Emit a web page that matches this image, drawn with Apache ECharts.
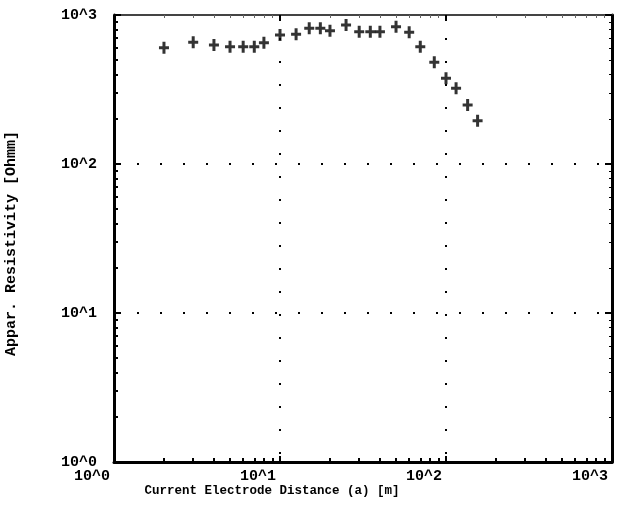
<!DOCTYPE html>
<html>
<head>
<meta charset="utf-8">
<script src="https://cdn.jsdelivr.net/npm/echarts@6/dist/echarts.min.js"></script>
<style>html,body{margin:0;padding:0;background:#fff}#c{width:620px;height:512px}</style>
</head>
<body>
<div id="c"></div>
<script>
var distance = [2, 3, 4, 5, 6, 7, 8, 10, 12.5, 15, 17.5, 20, 25, 30, 35, 40, 50, 60, 70, 85, 100, 115, 135, 155];
var resistivity = [604, 656, 629, 613, 613, 613, 652, 734, 742, 814, 814, 785, 857, 773, 773, 773, 834, 765, 613, 482, 376, 322, 249, 195];
var majorTicks = [1, 10, 100, 1000];
var minorTicks = [2,3,4,5,6,7,8,9,20,30,40,50,60,70,80,90,200,300,400,500,600,700,800,900];
var xTitle = 'Current Electrode Distance (a) [m]';
var yTitle = 'Appar. Resistivity [Ohmm]';

var FONT = '"Liberation Mono", "DejaVu Sans Mono", monospace';
var lab = function (v) { return '10^' + Math.round(Math.log10(v)); };
var plus = 'path://M3.5,0 L6.5,0 L6.5,4.5 L10,4.5 L10,7.5 L6.5,7.5 L6.5,12 L3.5,12 L3.5,7.5 L0,7.5 L0,4.5 L3.5,4.5 Z';

function logAxis(pos, opts) {
  var a = {
    type: 'log', logBase: 10, min: 1, max: 1000, position: pos,
    axisLine: { show: false, onZero: false },
    axisTick: { show: false },
    axisLabel: { show: false },
    splitLine: { show: false },
    minorTick: { show: false },
    minorSplitLine: { show: false }
  };
  for (var k in opts) a[k] = opts[k];
  return a;
}

var chart = echarts.init(document.getElementById('c'), null, { renderer: 'canvas' });
chart.setOption({
  animation: false,
  backgroundColor: '#fff',
  grid: { left: 114, right: 8, top: 15, bottom: 50, containLabel: false, outerBoundsMode: 'none' },
  xAxis: [
    logAxis('bottom', {
      name: xTitle, nameLocation: 'middle', nameGap: 22, nameMoveOverlap: false,
      nameTextStyle: { fontFamily: FONT, fontWeight: 'bold', fontSize: 12.5, color: '#000', padding: [0, 182, 0, 0] },
      axisLine: { show: true, onZero: false, lineStyle: { color: '#000', width: 3 } },
      axisTick: { show: true, inside: true, length: 6, lineStyle: { color: '#000', width: 2 }, customValues: majorTicks },
      axisLabel: { show: true, customValues: majorTicks, formatter: lab, margin: 7, align: 'right', padding: [0, 4, 0, 0],
        fontFamily: FONT, fontWeight: 'bold', fontSize: 15, color: '#000' },
      splitLine: { show: true, lineStyle: { color: '#000', width: 2, type: [2, 21] } }
    }),
    logAxis('bottom', {
      axisTick: { show: true, inside: true, length: 4, lineStyle: { color: '#000', width: 2 }, customValues: minorTicks }
    }),
    logAxis('top', {
      axisLine: { show: true, onZero: false, lineStyle: { color: '#444', width: 2 } },
      axisTick: { show: true, inside: true, length: 6, lineStyle: { color: '#000', width: 2 }, customValues: majorTicks }
    }),
    logAxis('top', {
      axisTick: { show: true, inside: true, length: 3, lineStyle: { color: '#666', width: 1 }, customValues: minorTicks }
    })
  ],
  yAxis: [
    logAxis('left', {
      name: yTitle, nameLocation: 'middle', nameGap: 95, nameRotate: 90, nameMoveOverlap: false,
      nameTextStyle: { fontFamily: FONT, fontWeight: 'bold', fontSize: 15, color: '#000', padding: [0, 10, 0, 0] },
      axisLine: { show: true, onZero: false, lineStyle: { color: '#000', width: 3 } },
      axisTick: { show: true, inside: true, length: 7, lineStyle: { color: '#000', width: 2 }, customValues: majorTicks },
      axisLabel: { show: true, customValues: majorTicks, formatter: lab, margin: 17,
        fontFamily: FONT, fontWeight: 'bold', fontSize: 15, color: '#000' },
      splitLine: { show: true, lineStyle: { color: '#000', width: 2, type: [2, 21] } }
    }),
    logAxis('left', {
      axisTick: { show: true, inside: true, length: 4, lineStyle: { color: '#000', width: 2 }, customValues: minorTicks }
    }),
    logAxis('right', {
      axisLine: { show: true, onZero: false, lineStyle: { color: '#000', width: 3 } },
      axisTick: { show: true, inside: true, length: 7, lineStyle: { color: '#000', width: 2 }, customValues: majorTicks }
    }),
    logAxis('right', {
      axisTick: { show: true, inside: true, length: 3, lineStyle: { color: '#000', width: 1 }, customValues: minorTicks }
    })
  ],
  series: [{
    type: 'scatter',
    xAxisIndex: 0, yAxisIndex: 0,
    symbol: plus,
    symbolSize: [10, 12],
    itemStyle: { color: '#000' },
    data: distance.map(function (d, i) { return [d, resistivity[i]]; })
  }]
});
</script>
</body>
</html>
